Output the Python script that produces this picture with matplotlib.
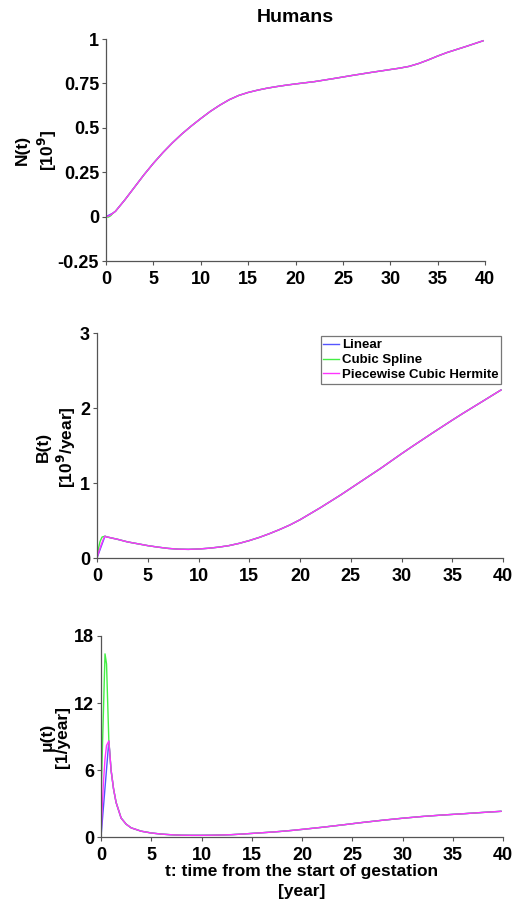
import matplotlib
matplotlib.use("Agg")
import matplotlib.pyplot as plt

plt.rcParams['font.family'] = ['Liberation Sans', 'DejaVu Sans']
plt.rcParams['font.weight'] = 'bold'

# ---- data -------------------------------------------------------------
t_tail = [1, 2, 3, 4, 5, 6, 7, 8, 9, 10, 11, 12, 13, 14, 15, 16, 17, 18,
          19, 20, 22, 24, 26, 28, 30, 31, 32, 33, 34, 35, 36, 38, 39.8]

# population N(t) [10^9]
N_tail = [0.03, 0.095, 0.165, 0.235, 0.30, 0.36, 0.415, 0.465, 0.51, 0.552,
          0.592, 0.627, 0.658, 0.682, 0.699, 0.712, 0.723, 0.732, 0.74, 0.747,
          0.76, 0.777, 0.795, 0.812, 0.828, 0.836, 0.846, 0.862, 0.882, 0.904,
          0.924, 0.958, 0.99]
N_lin_t, N_lin = [0, 0.75], [0, 0.02]
N_spl_t, N_spl = [0, 0.25, 0.5, 0.75], [0, -0.003, 0.005, 0.02]
N_pch_t, N_pch = [0, 0.25, 0.5, 0.75], [0, 0.003, 0.01, 0.02]

# births B(t) [10^9/year]
B_tail = [0.28, 0.25, 0.215, 0.19, 0.165, 0.145, 0.128, 0.118, 0.115, 0.12,
          0.13, 0.145, 0.165, 0.195, 0.232, 0.275, 0.325, 0.38, 0.44, 0.51,
          0.67, 0.84, 1.02, 1.2, 1.39, 1.482, 1.572, 1.662, 1.75, 1.838,
          1.924, 2.09, 2.24]
B_lin_t, B_lin = [0, 0.78], [0, 0.29]
B_spl_t, B_spl = [0, 0.15, 0.3, 0.5, 0.78], [0, 0.13, 0.22, 0.28, 0.29]
B_pch_t, B_pch = [0, 0.2, 0.4, 0.6, 0.78], [0, 0.09, 0.17, 0.24, 0.29]

# rate mu(t) [1/year]
mu_tail_t = [0.85, 1, 1.25, 1.5, 2, 2.5, 3, 4, 5, 6, 7, 8, 9, 10, 11, 12, 13,
             14, 15, 16, 17, 18, 19, 20, 22, 24, 26, 28, 30, 32, 34, 36, 38,
             39.8]
mu_tail = [7.8, 6.0, 4.3, 3.1, 1.7, 1.15, 0.82, 0.52, 0.36, 0.26, 0.2, 0.16,
           0.15, 0.15, 0.16, 0.18, 0.21, 0.26, 0.32, 0.38, 0.44, 0.51, 0.59,
           0.68, 0.87, 1.08, 1.3, 1.5, 1.68, 1.84, 1.97, 2.08, 2.2, 2.3]
mu_lin_t, mu_lin = [0, 0.78], [0, 8.6]
mu_spl_t, mu_spl = [0.02, 0.4, 0.55, 0.78], [4.0, 16.4, 15.5, 8.6]
mu_pch_t, mu_pch = [0, 0.1, 0.25, 0.4, 0.55, 0.78], [0, 2.2, 5.0, 7.0, 8.2, 8.6]

labels = ['Linear', 'Cubic Spline', 'Piecewise Cubic Hermite']
colors = ['#5555ff', '#44ee44', '#ff33ff']

x_ticks = [0, 5, 10, 15, 20, 25, 30, 35, 40]

# ---- figure -----------------------------------------------------------
W, H = 514, 905
fig = plt.figure(figsize=(W / 100, H / 100), dpi=100)


def make_axes(left, right, top, bottom):
    return fig.add_axes([left / W, 1 - bottom / H, (right - left) / W,
                         (bottom - top) / H])


def side_label(text, x, y, spacing):
    # rotated two-line axis label placed in figure pixels
    fig.text(x / W, 1 - y / H, text, rotation=90, ha='center', va='center',
             fontsize=12.5, fontweight='bold', linespacing=spacing,
             multialignment='center')


def style(ax, yticks, ylabels, ylim):
    for s in ('top', 'right'):
        ax.spines[s].set_visible(False)
    for s in ('left', 'bottom'):
        ax.spines[s].set_color('#555555')
        ax.spines[s].set_linewidth(0.9)
    ax.set_xlim(0, 40)
    ax.set_ylim(*ylim)
    ax.set_xticks(x_ticks)
    ax.set_xticklabels([str(v) for v in x_ticks])
    ax.set_yticks(yticks)
    ax.set_yticklabels(ylabels)
    ax.tick_params(direction='out', length=3, width=0.8, color='#555555',
                   labelsize=13)
    ax.tick_params(axis='x', pad=4)
    ax.tick_params(axis='y', pad=2)
    for lab in ax.get_xticklabels() + ax.get_yticklabels():
        lab.set_fontweight('bold')


def draw(ax, heads, tail_t, tail_v):
    for (ht, hv), lab, c in zip(heads, labels, colors):
        tt = list(ht) + [x for x in tail_t if x > ht[-1]]
        vv = list(hv) + [v for x, v in zip(tail_t, tail_v) if x > ht[-1]]
        ax.plot(tt, vv, color=c, lw=1.0, label=lab)


# N(t)
ax1 = make_axes(106, 485, 39, 261)
draw(ax1, [(N_lin_t, N_lin), (N_spl_t, N_spl), (N_pch_t, N_pch)],
     t_tail, N_tail)
style(ax1, [-0.25, 0, 0.25, 0.5, 0.75, 1],
      ['-0.25', '0', '0.25', '0.5', '0.75', '1'], (-0.25, 1))
ax1.set_title('Humans', fontsize=14, fontweight='bold', pad=12)
side_label('N(t)\n[10$^{\\mathbf{9}}$]', 37, 150, 1.35)

# B(t)
ax2 = make_axes(97, 503, 333, 558)
draw(ax2, [(B_lin_t, B_lin), (B_spl_t, B_spl), (B_pch_t, B_pch)],
     t_tail, B_tail)
style(ax2, [0, 1, 2, 3], ['0', '1', '2', '3'], (0, 3))
side_label('B(t)\n[10$^{\\mathbf{9}}$/year]', 57, 447, 1.25)
leg = ax2.legend(loc='upper right', bbox_to_anchor=(0.995, 0.985),
                 prop={'weight': 'bold', 'size': 9.5}, handlelength=1.2,
                 handletextpad=0.2, borderpad=0.2, labelspacing=0.2,
                 fancybox=False, framealpha=1, borderaxespad=0)
leg.get_frame().set_edgecolor('#777777')
leg.get_frame().set_linewidth(0.9)

# mu(t)
ax3 = make_axes(101, 503, 636, 837)
draw(ax3, [(mu_lin_t, mu_lin), (mu_spl_t, mu_spl), (mu_pch_t, mu_pch)],
     mu_tail_t, mu_tail)
style(ax3, [0, 6, 12, 18], ['0', '6', '12', '18'], (0, 18))
side_label('\u03bc(t)\n[1/year]', 55, 737, 1.05)
ax3.set_xlabel('t: time from the start of gestation\n[year]', fontsize=12.5,
               fontweight='bold', labelpad=0, linespacing=1.4)

fig.savefig('out.png', dpi=100, facecolor='white')
